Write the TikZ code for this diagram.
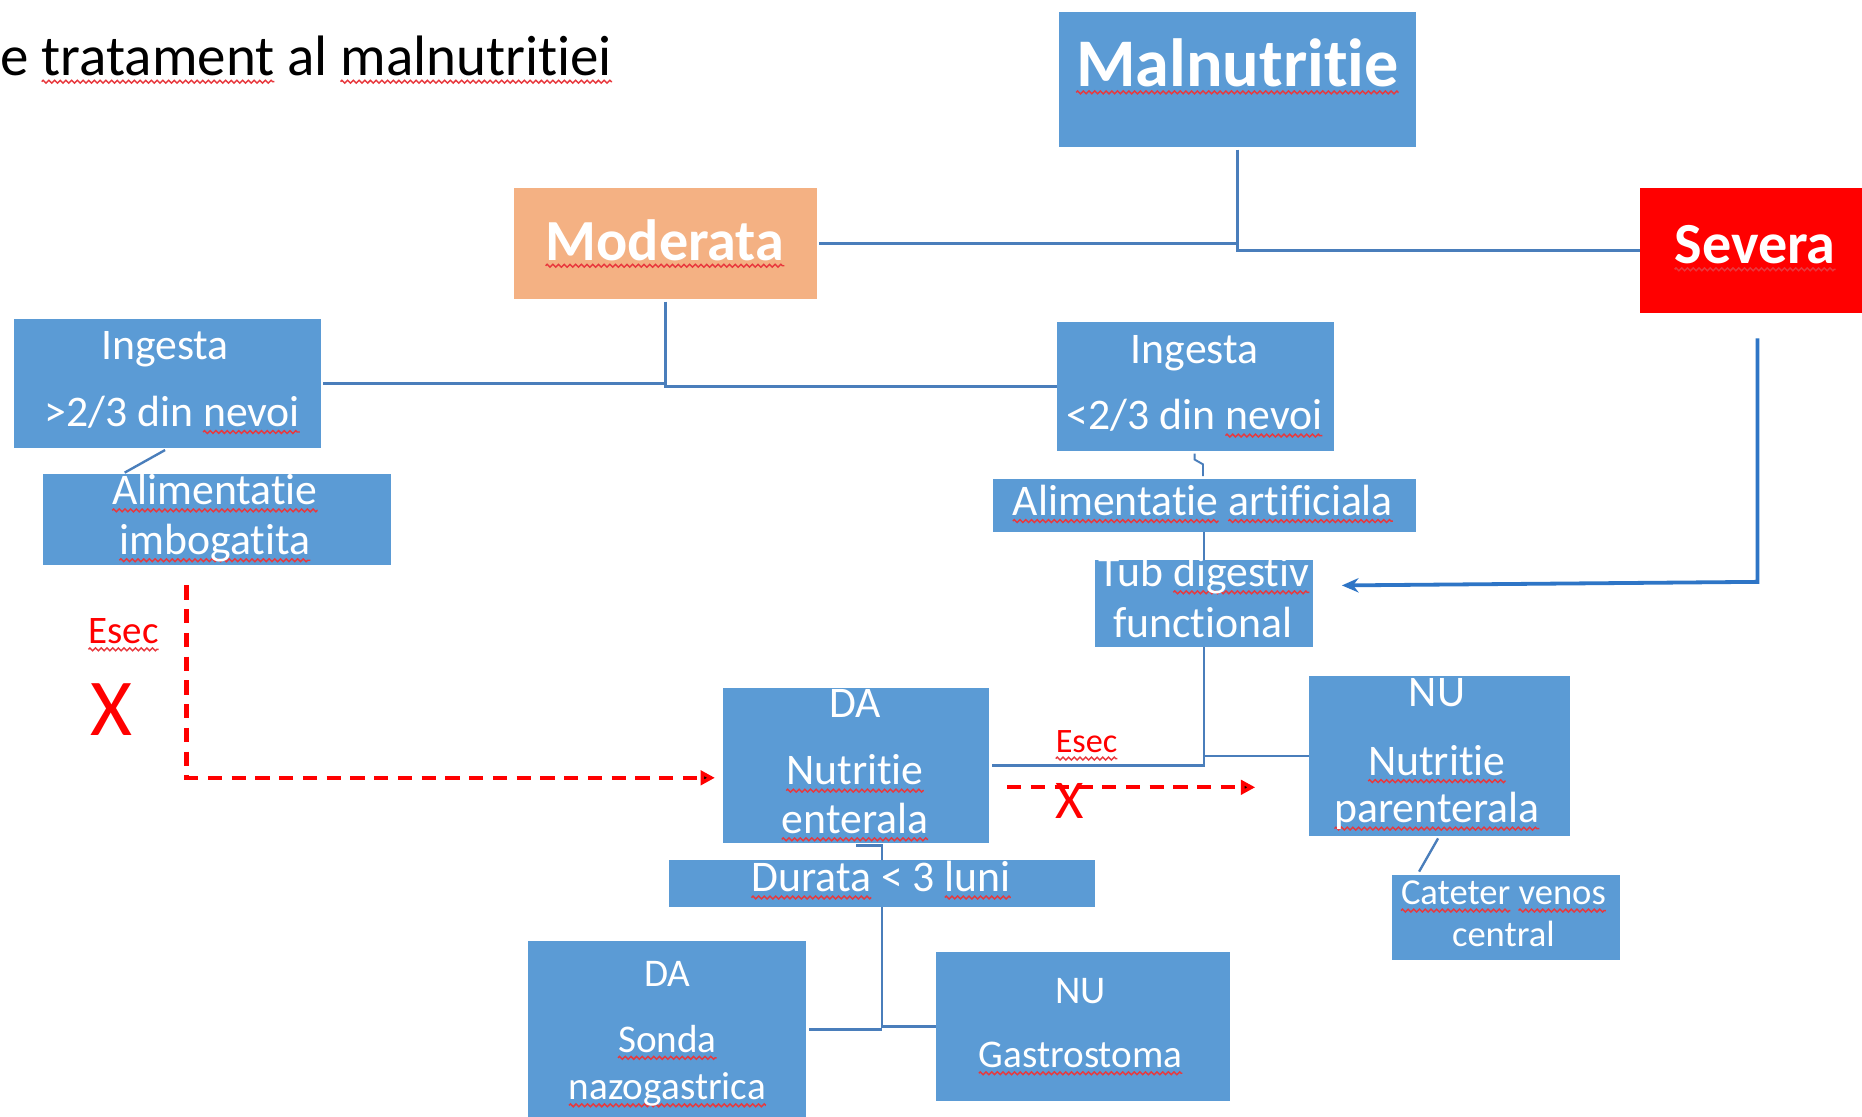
\documentclass[tikz,border=0pt]{standalone}
\usepackage{fontspec}
\setmainfont[Ligatures=NoCommon,RawFeature={-calt,-clig,-dlig}]{Carlito}
\usetikzlibrary{arrows.meta,calc,fit,decorations.pathmorphing}
\definecolor{boxblue}{HTML}{5B9BD5}
\definecolor{modorange}{HTML}{F4B183}
\definecolor{linkblue}{HTML}{4A7EBB}
\definecolor{arrowblue}{HTML}{2E75C6}
\definecolor{sqred}{HTML}{E8383D}
\newsavebox\sqbox
\newlength\sqlen
\newcommand\sq[1]{\sbox\sqbox{#1}\setlength\sqlen{\wd\sqbox}\rlap{\tikz[overlay,baseline=0pt,x=1pt,y=1pt]{\draw[sqred,line width=0.6pt,decorate,decoration={zigzag,segment length=2.4pt,amplitude=0.6pt}] (0pt,-2.4pt) -- (\sqlen,-2.4pt);}}\usebox\sqbox}
\begin{document}
\begin{tikzpicture}[x=0.5pt,y=-0.5pt,
  box/.style={fill=boxblue,draw=none,inner sep=0pt,outer sep=0pt},
  txt/.style={text=white,anchor=base,inner sep=0pt,font=\fontsize{18.4}{22}\selectfont},
  smalltxt/.style={txt,font=\fontsize{16.5}{20}\selectfont},
  big/.style={text=white,anchor=base,inner sep=0pt,font=\bfseries\fontsize{24.5}{29}\selectfont},
  link/.style={draw=linkblue,line width=1pt},
  fail/.style={draw=red,line width=1.8pt,dash pattern=on 6pt off 4pt,-{Triangle[length=6pt,width=6pt]}},
  redtxt/.style={text=red,anchor=base,inner sep=0pt}]
\path[use as bounding box,clip] (0,0) rectangle (1568,940);
\fill[white] (0,0) rectangle (1568,940);

% boxes
\node[box,fit={(892,10) (1192,124)}] (mal) {};
\node[box,fill=modorange,fit={(433,158) (688,252)}] (mod) {};
\node[box,fill=red,fit={(1381,158) (1600,264)}] (sev) {};
\node[box,fit={(12,269) (270,377)}] (ingL) {};
\node[box,fit={(890,271) (1123,380)}] (ingR) {};
\node[box,fit={(36,399) (329,476)}] (alimL) {};
\node[box,fit={(836,403) (1192,448)}] (alimA) {};
\node[box,fit={(922,472) (1106,545)}] (tub) {};
\node[box,fit={(609,579) (833,710)}] (ent) {};
\node[box,fit={(1102,569) (1322,704)}] (par) {};
\node[box,fit={(563,724) (922,764)}] (dur) {};
\node[box,fit={(445,792) (679,942)}] (son) {};
\node[box,fit={(788,802) (1036,927)}] (gas) {};
\node[box,fit={(1172,737) (1364,808)}] (cat) {};

% texts
\node[anchor=base west,inner sep=0pt,font=\fontsize{24}{29}\selectfont] (title) at (0,64) {e \sq{tratament} al \sq{malnutritiei}};
\node[big,font=\bfseries\fontsize{28.7}{34}\selectfont] (tmal) at (1042,73) {\sq{Malnutritie}};
\node[big] (tmod) at (560,219) {\sq{Moderata}};
\node[big] (tsev) at (1478,222) {\sq{Severa}};
\node[txt] (ingL1) at (139,303) {Ingesta};
\node[txt] (ingL2) at (145,359) {>2/3 din \sq{nevoi}};
\node[txt] (alimL1) at (181,425) {\sq{Alimentatie}};
\node[txt] (alimL2) at (181,467) {\sq{imbogatita}};
\node[txt] (ingR1) at (1006,306) {Ingesta};
\node[txt] (ingR2) at (1006,362) {<2/3 din \sq{nevoi}};
\node[txt] (alimA1) at (1013,434) {\sq{Alimentatie} \sq{artificiala}};
\node[txt] (tub1) at (1014,494) {Tub \sq{digestiv}};
\node[txt] (tub2) at (1013,537) {functional};
\node[txt] (ent1) at (720,604) {DA};
\node[txt] (ent2) at (720,661) {\sq{Nutritie}};
\node[txt] (ent3) at (720,702) {\sq{enterala}};
\node[txt] (par1) at (1210,595) {NU};
\node[txt] (par2) at (1210,653) {\sq{Nutritie}};
\node[txt] (par3) at (1210,693) {\sq{parenterala}};
\node[txt] (dur1) at (742,751) {\sq{Durata} < 3 \sq{luni}};
\node[smalltxt] (son1) at (562,831) {DA};
\node[smalltxt] (son2) at (562,886) {\sq{Sonda}};
\node[smalltxt] (son3) at (562,926) {\sq{nazogastrica}};
\node[smalltxt] (gas1) at (910,845) {NU};
\node[smalltxt] (gas2) at (910,899) {\sq{Gastrostoma}};
\node[txt,font=\fontsize{15.4}{19}\selectfont] (cat1) at (1266,762) {\sq{Cateter} \sq{venos}};
\node[txt,font=\fontsize{15.4}{19}\selectfont] (cat2) at (1266,797) {central};
\node[redtxt,font=\fontsize{16.4}{20}\selectfont] (esec1) at (104,542) {\sq{Esec}};
\node[redtxt,font=\fontsize{34}{40}\selectfont] (x1) at (94,619) {X};
\node[redtxt,font=\fontsize{14.4}{18}\selectfont] (esec2) at (915,634) {\sq{Esec}};
\node[redtxt,font=\fontsize{23}{28}\selectfont] (x2) at (901,689) {X};

% connectors
\draw[link] ($(mal.south)+(0,2)$) |- (sev.west);
\draw[link] ($(mod.east)+(2,0)$) -- (mod.east -| mal.south);
\draw[link] ($(mod.south)+(0,2)$) |- (ingR.west);
\draw[link] ($(ingL.east)+(2,0)$) -- (ingL.east -| mod.south);
\draw[link] ($(ingL.south)+(-2,2)$) -- ($(alimL.north west)+(69,-1)$);
\draw[link,line width=0.8pt] ($(ingR.south)+(-0.5,2)$) -- ++(0,5) -- ++(7,4) -- ($(alimA.north)+(-1,-2)$);
\draw[link] (alimA.south) -- (tub.north);
\draw[link] (tub.south) |- ($(ent.east)+(2,0)$);
\draw[link] (tub.south |- par.west) -- (par.west);
\draw[link] ($(ent.south)+(0,2)$) -| (dur.north);
\draw[link] (dur.south) |- (gas.west);
\draw[link] (dur.south |- son.east) -- ($(son.east)+(2,0)$);
\draw[link] ($(par.south)+(-1,2)$) -- ($(cat.north west)+(23,-3)$);
\draw[draw=arrowblue,line width=1.6pt,-{Stealth[length=7pt,width=6pt]}]
  ($(sev.south west)+(99,21)$) -- ++(0,205) -- ($(tub.east)+(24,-15.5)$);

\draw[fail] ($(alimL.south west)+(121,17)$) |- ($(ent.west)+(-7,10.5)$);
\draw[fail] ($(ent.east)+(15,18.5)$) -- ($(par.west)+(-45,26.5)$);
\end{tikzpicture}
\end{document}
